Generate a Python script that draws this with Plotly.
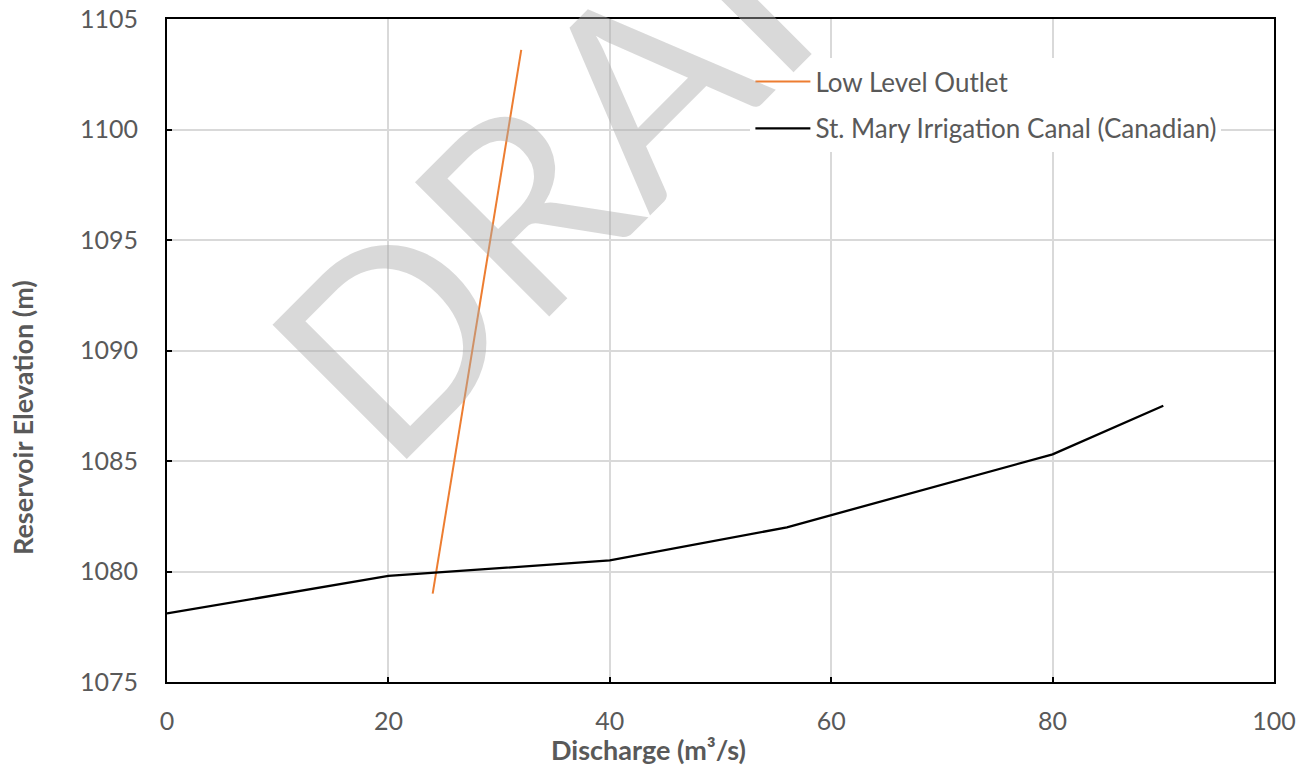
import plotly.graph_objects as go

# Rating curves: reservoir elevation versus discharge
outlet_q = [24, 32]
outlet_elev = [1079.0, 1103.6]

canal_q = [0, 20, 40, 56, 80, 90]
canal_elev = [1078.1, 1079.8, 1080.5, 1082.0, 1085.3, 1087.5]

x_ticks = [0, 20, 40, 60, 80, 100]
y_ticks = [1075, 1080, 1085, 1090, 1095, 1100, 1105]

FONT = "Lato, 'Open Sans', sans-serif"
GREY_TEXT = "#595959"

fig = go.Figure()
fig.add_trace(go.Scatter(
    x=outlet_q, y=outlet_elev, mode="lines", name="Low Level Outlet",
    line=dict(color="#ED7D31", width=2), legendgroup="a",
))
fig.add_trace(go.Scatter(
    x=canal_q, y=canal_elev, mode="lines", name="St. Mary Irrigation Canal (Canadian)",
    line=dict(color="#000000", width=2.3), legendgroup="b",
))

fig.update_layout(
    width=1312, height=765,
    margin=dict(l=167, r=38, t=19, b=83, autoexpand=False),
    paper_bgcolor="white", plot_bgcolor="white",
    font=dict(family=FONT, color=GREY_TEXT, size=25),
    legend=dict(
        x=0.527, y=0.941, xanchor="left", yanchor="top",
        bgcolor="white", font=dict(size=26, color=GREY_TEXT),
        tracegroupgap=10, itemwidth=55,
    ),
    xaxis=dict(
        range=[0, 100], tickvals=x_ticks, ticktext=[str(v) for v in x_ticks],
        showgrid=True, gridcolor="#D9D9D9", gridwidth=1.5,
        showline=True, linecolor="#000000", linewidth=2, mirror=True,
        ticks="inside", ticklen=5, tickcolor="#000000", tickwidth=1.5,
        ticklabelstandoff=16, zeroline=False, automargin=False,
        tickfont=dict(size=25, color=GREY_TEXT),
    ),
    yaxis=dict(
        range=[1075, 1105], tickvals=y_ticks, ticktext=[str(v) for v in y_ticks],
        showgrid=True, gridcolor="#D9D9D9", gridwidth=1.5,
        showline=True, linecolor="#000000", linewidth=2, mirror=True,
        ticks="inside", ticklen=5, tickcolor="#000000", tickwidth=1.5,
        ticklabelstandoff=22, zeroline=False, automargin=False,
        tickfont=dict(size=25, color=GREY_TEXT),
    ),
    annotations=[
        dict(text="<b>Discharge (m³/s)</b>", xref="paper", yref="paper",
             x=(648 - 167) / 1107, y=-(749 - 682) / 663, xanchor="center", yanchor="middle",
             showarrow=False, font=dict(size=27, color=GREY_TEXT)),
        dict(text="<b>Reservoir Elevation (m)</b>", xref="paper", yref="paper",
             x=-(167 - 22) / 1107, y=(682 - 418) / 663, xanchor="center", yanchor="middle",
             textangle=-90, showarrow=False, font=dict(size=27, color=GREY_TEXT)),
        dict(text="DRAFT", xref="paper", yref="paper",
             x=(618 - 167) / 1107, y=(682 - 102) / 663, xanchor="center", yanchor="middle",
             textangle=-45, showarrow=False,
             font=dict(size=265, color="rgba(170,170,170,0.45)", family=FONT)),
    ],
)

fig.write_html("out.html")
